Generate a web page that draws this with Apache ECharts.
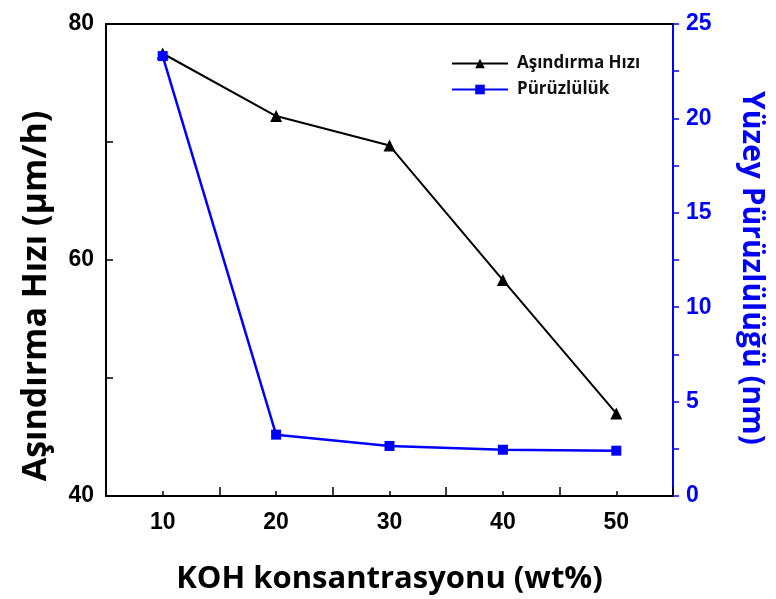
<!DOCTYPE html>
<html>
<head>
<meta charset="utf-8">
<script src="https://cdn.jsdelivr.net/npm/echarts@6/dist/echarts.min.js"></script>
<style>
  html, body { margin: 0; padding: 0; background: #fff; }
  #chart { width: 776px; height: 599px; }
</style>
</head>
<body>
<div id="chart"></div>
<script>
// KOH concentration (wt%)
const koh = [10, 20, 30, 40, 50];
// Etch rate (µm/h), left axis
const etchRate = [77.5, 72.2, 69.7, 58.3, 47.0];
// Surface roughness (nm), right axis
const roughness = [23.3, 3.25, 2.65, 2.45, 2.4];
const xTickLabels = [10, 20, 30, 40, 50];

const titleFont = '"Open Sans", "Noto Sans", sans-serif';
const tickFont = '"Liberation Sans", Arial, sans-serif';
const blue = '#0000ff';

const chart = echarts.init(document.getElementById('chart'), null, { renderer: 'canvas' });

chart.setOption({
  animation: false,
  backgroundColor: '#fff',
  grid: { left: 106, right: 103, top: 24, bottom: 103, containLabel: false, outerBoundsMode: 'none' },
  legend: {
    left: 446, top: 50, orient: 'vertical', itemGap: 9,
    itemWidth: 56, itemHeight: 12,
    textStyle: { fontFamily: titleFont, fontWeight: 'bold', fontSize: 17, color: '#111', padding: [0, 0, 0, 4] },
    data: ['Aşındırma Hızı', 'Pürüzlülük']
  },
  graphic: [{
    // left axis title, reading upwards
    type: 'text', x: 36, y: 296, rotation: Math.PI / 2,
    style: {
      text: 'Aşındırma Hızı (µm/h)', fill: '#000', align: 'center', verticalAlign: 'middle',
      font: 'bold 34px "Open Sans", "Noto Sans", sans-serif'
    },
    z: 10
  }, {
    // right axis title, reading downwards
    type: 'text', x: 752, y: 268, rotation: -Math.PI / 2,
    style: {
      text: 'Yüzey Pürüzlülüğü (nm)', fill: blue, align: 'center', verticalAlign: 'middle',
      font: 'bold 30px "Open Sans", "Noto Sans", sans-serif'
    },
    z: 10
  }],
  xAxis: [{
    type: 'value', min: 5, max: 55, interval: 5,
    name: 'KOH konsantrasyonu (wt%)', nameLocation: 'middle', nameGap: 68,
    nameTextStyle: { fontFamily: titleFont, fontWeight: 'bold', fontSize: 31, color: '#000' },
    axisLine: { lineStyle: { color: '#000', width: 2 } },
    axisTick: { inside: true, length: 5, lineStyle: { color: '#000', width: 1.5 } },
    axisLabel: {
      margin: 15, fontFamily: tickFont, fontWeight: 'bold', fontSize: 23, color: '#000',
      formatter: v => xTickLabels.includes(v) ? String(v) : ''
    },
    splitLine: { show: false }
  }, {
    // longer ticks at the labelled positions
    type: 'value', min: 5, max: 55, interval: 10, position: 'bottom',
    axisLine: { show: false },
    axisTick: { inside: true, length: 9, lineStyle: { color: '#000', width: 1.5 } },
    axisLabel: { show: false },
    splitLine: { show: false }
  }, {
    type: 'value', min: 5, max: 55, position: 'top',
    axisLine: { show: true, lineStyle: { color: '#000', width: 2 } },
    axisTick: { show: false }, axisLabel: { show: false }, splitLine: { show: false }
  }],
  yAxis: [{
    type: 'value', min: 40, max: 80, interval: 10, position: 'left',
    axisLine: { show: true, lineStyle: { color: '#000', width: 2 } },
    axisTick: { inside: true, length: 7, lineStyle: { color: '#000', width: 1.5 } },
    axisLabel: {
      margin: 12, fontFamily: tickFont, fontWeight: 'bold', fontSize: 23, color: '#000',
      formatter: v => (v % 20 === 0 ? String(v) : '')
    },
    splitLine: { show: false }
  }, {
    type: 'value', min: 0, max: 25, interval: 2.5, position: 'right',
    axisLine: { show: true, lineStyle: { color: blue, width: 2 } },
    axisTick: { inside: false, length: 6, lineStyle: { color: blue, width: 1.5 } },
    axisLabel: {
      margin: 13, fontFamily: tickFont, fontWeight: 'bold', fontSize: 23, color: blue,
      formatter: v => (v % 5 === 0 ? String(v) : '')
    },
    splitLine: { show: false }
  }],
  series: [{
    name: 'Aşındırma Hızı', type: 'line', xAxisIndex: 0, yAxisIndex: 0,
    data: koh.map((k, i) => [k, etchRate[i]]),
    symbol: 'triangle', symbolSize: 12,
    lineStyle: { color: '#000', width: 2 },
    itemStyle: { color: '#000' }
  }, {
    name: 'Pürüzlülük', type: 'line', xAxisIndex: 0, yAxisIndex: 1,
    data: koh.map((k, i) => [k, roughness[i]]),
    symbol: 'rect', symbolSize: 10,
    lineStyle: { color: blue, width: 2.5 },
    itemStyle: { color: blue }
  }]
});
</script>
</body>
</html>
